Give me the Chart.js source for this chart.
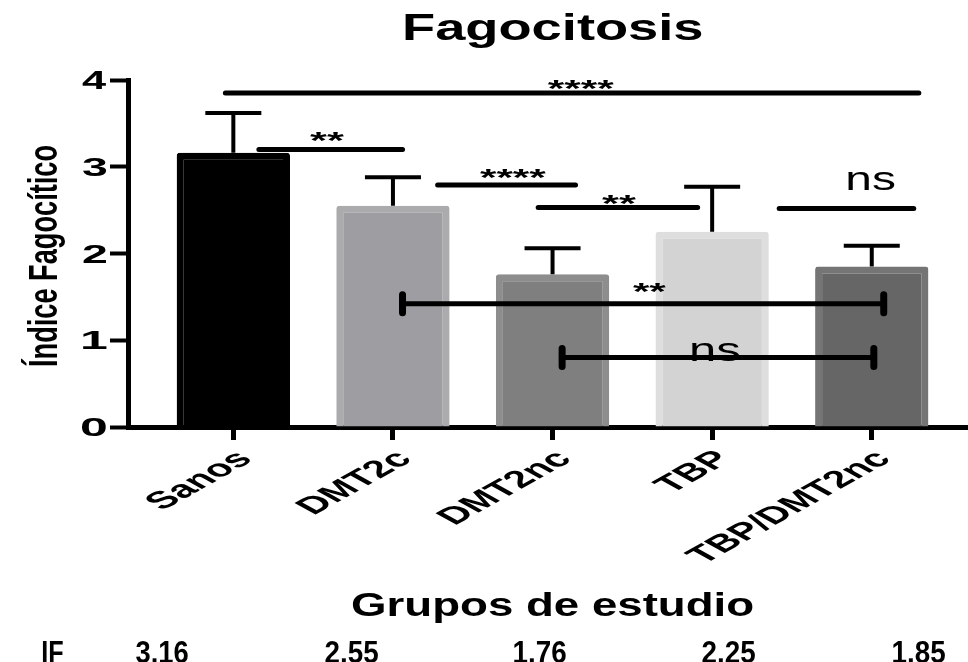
<!DOCTYPE html>
<html>
<head>
<meta charset="utf-8">
<script src="https://cdn.jsdelivr.net/npm/chart.js@4.4.1/dist/chart.umd.min.js"></script>
<style>
  html, body { margin: 0; padding: 0; background: #ffffff; }
  canvas { display: block; }
</style>
</head>
<body>
<canvas id="chart" width="968" height="662"></canvas>
<script>
// ---- data ----
const groups = ['Sanos', 'DMT2c', 'DMT2nc', 'TBP', 'TBP/DMT2nc'];
const meanIF = [3.16, 2.55, 1.76, 2.25, 1.85];
const sdIF = [0.46, 0.33, 0.30, 0.52, 0.24];
const yTicks = [0, 1, 2, 3, 4];

// pairwise comparisons: span along the group axis, height, significance
const cmpFrom  = [-0.05, 0.16, 1.28, 1.91, 3.42, 1.06, 2.06];
const cmpTo    = [4.295, 1.06, 2.144, 2.909, 4.263, 4.075, 4.013];
const cmpLevel = [3.85, 3.20, 2.79, 2.53, 2.52, 1.42, 0.80];
const cmpLabel = ['****', '**', '****', '**', 'ns', '**', 'ns'];

// ---- styles ----
const FAM = '"Liberation Sans", Arial, Helvetica, sans-serif';
const barFill   = ['#000000', '#9e9ea2', '#7f7f7f', '#d3d3d3', '#666666'];
const barBorder = ['#000000', '#ababae', '#8d8d8d', '#dedede', '#757575'];
const STAR = 'bold 24px ' + FAM;
const NS = '33px ' + FAM;
const cmpStyle = [
  { at: 2.18,  dy: -9,    w: 67, font: STAR },
  { at: 0.59,  dy: -12.5, w: 35, font: STAR },
  { at: 1.755, dy: -11,   w: 67, font: STAR },
  { at: 2.42,  dy: -8.5,  w: 35, font: STAR },
  { at: 4.0,   dy: -27,   w: 47, font: NS },
  { at: 2.61,  dy: -16,   w: 34, font: STAR, caps: true },
  { at: 3.024, dy: -6,    w: 48, font: NS,   caps: true }
];
const ifCentres = [162, 352, 540, 729, 919];

// centre the ink of a string on (cx, cy), stretched to width w
function drawInk(ctx, text, cx, cy, font, w) {
  ctx.save();
  ctx.font = font;
  ctx.textAlign = 'left';
  ctx.textBaseline = 'alphabetic';
  const m = ctx.measureText(text);
  const l = m.actualBoundingBoxLeft, r = m.actualBoundingBoxRight;
  const a = m.actualBoundingBoxAscent, d = m.actualBoundingBoxDescent;
  ctx.translate(cx, cy);
  ctx.scale(w / (l + r), 1);
  ctx.fillText(text, -(r - l) / 2, (a - d) / 2);
  ctx.restore();
}
// centre a string horizontally on cx with its baseline at by, stretched to width w
function drawOnBaseline(ctx, text, cx, by, font, w) {
  ctx.save();
  ctx.font = font;
  ctx.textAlign = 'left';
  ctx.textBaseline = 'alphabetic';
  const m = ctx.measureText(text);
  const l = m.actualBoundingBoxLeft, r = m.actualBoundingBoxRight;
  ctx.translate(cx, by);
  ctx.scale(w / (l + r), 1);
  ctx.fillText(text, -(r - l) / 2, 0);
  ctx.restore();
}

const annotations = {
  id: 'annotations',
  afterDatasetsDraw(chart) {
    const { ctx, scales: { x, y } } = chart;
    ctx.save();
    ctx.strokeStyle = '#000';
    ctx.fillStyle = '#000';

    // upper SD whiskers
    ctx.lineWidth = 4;
    ctx.lineCap = 'butt';
    meanIF.forEach((m, i) => {
      const px = x.getPixelForValue(i);
      const y0 = y.getPixelForValue(m);
      const y1 = y.getPixelForValue(m + sdIF[i]);
      ctx.beginPath();
      ctx.moveTo(px, y0);
      ctx.lineTo(px, y1);
      ctx.moveTo(px - 28, y1);
      ctx.lineTo(px + 28, y1);
      ctx.stroke();
    });

    // significance bars
    cmpLevel.forEach((lv, i) => {
      const st = cmpStyle[i];
      const x0 = x.getPixelForValue(cmpFrom[i]);
      const x1 = x.getPixelForValue(cmpTo[i]);
      const py = y.getPixelForValue(lv);
      drawInk(ctx, cmpLabel[i], x.getPixelForValue(st.at), py + st.dy, st.font, st.w);
      ctx.lineWidth = 5;
      ctx.lineCap = 'round';
      ctx.beginPath();
      ctx.moveTo(x0, py);
      ctx.lineTo(x1, py);
      ctx.stroke();
      if (st.caps) {
        ctx.lineWidth = 7;
        ctx.beginPath();
        ctx.moveTo(x0, py - 9);
        ctx.lineTo(x0, py + 9);
        ctx.moveTo(x1, py - 9);
        ctx.lineTo(x1, py + 9);
        ctx.stroke();
      }
    });
    ctx.restore();
  },
  afterDraw(chart) {
    const { ctx, scales: { x, y } } = chart;
    ctx.save();
    ctx.fillStyle = '#000';

    // title
    drawInk(ctx, 'Fagocitosis', 553.5, 30, 'bold 36px ' + FAM, 297);

    // y axis title
    ctx.save();
    ctx.font = 'bold 40px ' + FAM;
    ctx.textAlign = 'center';
    ctx.textBaseline = 'alphabetic';
    ctx.translate(57, 256);
    ctx.rotate(-Math.PI / 2);
    const yt = 'Índice Fagocítico';
    ctx.scale(222 / ctx.measureText(yt).width, 1);
    ctx.fillText(yt, 0, 0);
    ctx.restore();

    // y tick labels
    y.ticks.forEach(t => {
      drawInk(ctx, String(t.value), 94.5, y.getPixelForValue(t.value), 'bold 26px ' + FAM, 25);
    });

    // x tick labels, slanted
    groups.forEach((g, i) => {
      const px = x.getPixelForValue(i);
      ctx.save();
      ctx.font = 'bold 24px ' + FAM;
      ctx.textAlign = 'right';
      ctx.textBaseline = 'alphabetic';
      ctx.translate(px - 1, 448);
      ctx.scale(1.8, 1);
      ctx.rotate(-Math.PI / 4);
      ctx.fillText(g, 0, 17);
      ctx.restore();
    });

    // x axis title
    drawInk(ctx, 'Grupos de estudio', 552.5, 607, 'bold 33px ' + FAM, 400);

    // index row
    drawOnBaseline(ctx, 'IF', 53, 663, 'bold 31px ' + FAM, 20);
    meanIF.forEach((m, i) => {
      drawOnBaseline(ctx, m.toFixed(2), ifCentres[i], 663, 'bold 31px ' + FAM, 53);
    });
    ctx.restore();
  }
};

new Chart(document.getElementById('chart'), {
  type: 'bar',
  data: {
    datasets: [{
      data: meanIF.map((v, i) => ({ x: i, y: v })),
      backgroundColor: barFill,
      borderColor: barBorder,
      borderWidth: 7,
      borderRadius: 3,
      borderSkipped: 'start',
      barPercentage: 0.71,
      categoryPercentage: 1.0
    }]
  },
  options: {
    responsive: false,
    animation: false,
    devicePixelRatio: 1,
    layout: { padding: { top: 80, right: 0, bottom: 0, left: 0 } },
    plugins: { legend: { display: false }, tooltip: { enabled: false }, title: { display: false } },
    scales: {
      x: {
        type: 'linear',
        min: -0.66,
        max: 4.603,
        offset: false,
        z: 1,
        afterBuildTicks: s => { s.ticks = groups.map((g, i) => ({ value: i })); },
        afterFit: s => { s.height = 235; },
        ticks: { display: false },
        grid: { display: true, offset: false, drawOnChartArea: false, drawTicks: true, tickLength: 13, tickWidth: 5, tickColor: '#000' },
        border: { display: true, color: '#000', width: 5 }
      },
      y: {
        min: 0,
        max: 4,
        z: 1,
        afterBuildTicks: s => { s.ticks = yTicks.map(v => ({ value: v })); },
        afterFit: s => { s.width = 128; },
        ticks: { display: false },
        grid: { display: true, drawOnChartArea: false, drawTicks: true, tickLength: 18, tickWidth: 4, tickColor: '#000' },
        border: { display: true, color: '#000', width: 5 }
      }
    }
  },
  plugins: [annotations]
});
</script>
</body>
</html>
